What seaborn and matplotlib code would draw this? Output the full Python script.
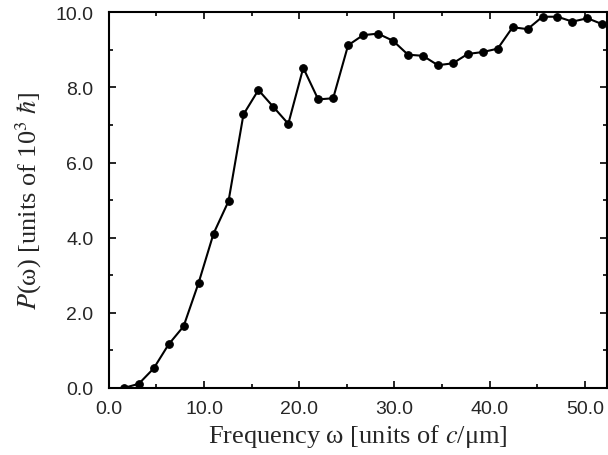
import numpy as np
import pandas as pd
import matplotlib
matplotlib.use("Agg")
import matplotlib.pyplot as plt
from matplotlib.ticker import MultipleLocator, FormatStrFormatter
import seaborn as sns

# frequency samples (units of c/um) and power (units of 10^3 hbar)
omega = [1.57, 3.14, 4.71, 6.28, 7.85, 9.42, 11.00, 12.57, 14.14, 15.71,
         17.28, 18.85, 20.42, 21.99, 23.56, 25.13, 26.70, 28.27, 29.85, 31.42,
         32.99, 34.56, 36.13, 37.70, 39.27, 40.84, 42.41, 43.98, 45.55, 47.12,
         48.69, 50.27, 51.84]
power = [0.00, 0.11, 0.52, 1.16, 1.64, 2.79, 4.11, 4.97, 7.28, 7.93,
         7.48, 7.03, 8.52, 7.68, 7.71, 9.12, 9.39, 9.43, 9.24, 8.87,
         8.84, 8.59, 8.64, 8.89, 8.94, 9.03, 9.60, 9.55, 9.88, 9.88,
         9.75, 9.84, 9.68]

df = pd.DataFrame({"omega": omega, "power": power})

sns.set_style("ticks")
plt.rcParams["font.family"] = ["Liberation Sans", "DejaVu Sans"]
plt.rcParams["mathtext.fontset"] = "stix"

fig = plt.figure(figsize=(6.08, 4.56), dpi=100)
ax = fig.add_axes([0.179, 0.147, 0.819, 0.824])

sns.lineplot(data=df, x="omega", y="power", ax=ax, color="black",
             marker="o", markersize=5.5, markeredgecolor="black",
             linewidth=1.5, legend=False)

ax.set_xlim(0, 52.3)
ax.set_ylim(0, 10)
ax.xaxis.set_major_locator(MultipleLocator(10))
ax.xaxis.set_minor_locator(MultipleLocator(5))
ax.yaxis.set_major_locator(MultipleLocator(2))
ax.yaxis.set_minor_locator(MultipleLocator(1))
ax.xaxis.set_major_formatter(FormatStrFormatter("%.1f"))
ax.yaxis.set_major_formatter(FormatStrFormatter("%.1f"))
ax.tick_params(which="both", direction="in", top=True, right=True,
               labelsize=14, color="black", width=1.2)
ax.tick_params(which="major", length=5)
ax.tick_params(which="minor", length=3)
ax.tick_params(axis="x", which="major", pad=9)
ax.tick_params(axis="y", which="major", pad=11)
for sp in ax.spines.values():
    sp.set_linewidth(1.5)
    sp.set_color("black")

serif = {"family": ["Liberation Serif", "DejaVu Serif"], "size": 19}
ax.set_xlabel(r"Frequency ω [units of $c$/μm]", fontdict=serif, labelpad=3)
ax.set_ylabel(r"$P$(ω) [units of 10$^3$ $\hbar$]", fontdict=serif, labelpad=8)

fig.savefig("out.png", dpi=100)
